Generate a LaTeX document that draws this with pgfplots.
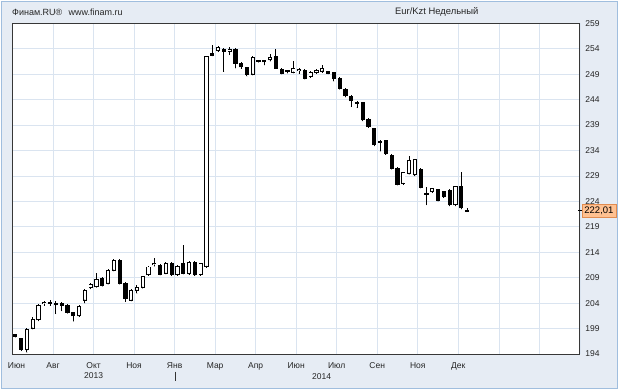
\documentclass[border=0pt]{standalone}
\usepackage{pgfplots}
\pgfplotsset{compat=1.18}
\usepackage{pgfplotstable}
\usepackage{fontspec}
\setmainfont{Liberation Sans}
\definecolor{panelbg}{RGB}{230,236,244}
\definecolor{panelborder}{RGB}{160,190,222}
\definecolor{gridc}{RGB}{218,228,240}
\definecolor{framec}{RGB}{55,55,55}
\definecolor{pricefill}{RGB}{255,193,145}
\definecolor{pricedraw}{RGB}{225,140,80}

\pgfplotstableread{
j O H L C
0 197.8 198.0 197.3 197.5
1 197.0 197.2 194.6 194.9
2 194.8 199.1 194.3 198.8
3 199.1 201.2 198.9 200.7
4 200.7 203.8 200.5 203.6
5 203.9 204.5 203.5 204.1
6 204.1 204.7 203.5 204.0
7 203.9 204.4 201.9 203.7
8 203.9 204.3 202.5 203.6
9 203.6 203.8 202.0 202.2
10 202.1 202.3 200.4 201.5
11 201.5 203.6 201.3 203.4
12 204.6 206.7 204.0 206.5
13 207.0 208.0 206.8 207.7
14 207.2 209.9 207.1 208.6
15 208.9 209.2 207.3 207.5
16 207.9 210.7 207.7 210.5
17 210.5 212.6 210.3 212.4
18 212.3 212.6 207.7 207.9
19 207.9 208.1 204.3 204.9
20 204.6 206.7 204.4 206.5
21 206.5 207.5 205.9 207.1
22 207.1 209.4 206.9 209.2
23 209.6 211.3 209.4 211.1
24 211.5 212.8 211.2 211.7
25 211.4 211.7 209.5 209.7
26 209.9 212.0 209.7 211.8
27 211.8 212.1 209.4 209.6
28 209.6 211.4 209.4 211.2
29 211.8 215.4 209.7 209.9
30 209.8 212.2 209.6 212.0
31 212.0 212.2 209.4 209.6
32 209.6 211.9 209.4 211.7
33 211.2 252.6 211.0 252.4
34 253.0 254.7 252.6 252.7
35 253.6 254.6 253.4 254.3
36 253.8 254.1 249.5 253.5
37 253.4 254.4 252.8 253.9
38 253.9 254.1 250.2 251.1
39 251.1 251.4 250.1 250.4
40 250.3 250.5 248.6 249.0
41 249.0 252.5 248.8 252.3
42 251.7 251.8 251.3 251.5
43 251.6 251.7 250.8 251.4
44 251.8 252.9 251.5 252.2
45 252.5 253.9 250.1 250.2
46 250.0 250.2 249.0 249.2
47 249.7 249.9 249.2 249.5
48 249.4 251.5 249.2 250.2
49 249.8 250.2 249.1 250.0
50 249.8 250.1 248.0 248.2
51 248.5 249.6 248.3 249.3
52 249.3 250.0 249.1 249.7
53 249.6 250.8 249.3 250.1
54 249.5 249.7 249.0 249.2
55 249.3 249.5 247.6 248.2
56 248.2 248.4 246.0 246.2
57 246.0 246.2 244.5 244.7
58 244.7 244.9 242.6 243.8
59 243.5 243.8 242.4 243.3
60 243.4 243.6 239.8 240.0
61 240.1 240.3 238.5 238.7
62 238.3 238.5 234.9 235.1
63 235.8 236.0 233.8 235.6
64 235.9 236.1 233.2 233.4
65 233.1 233.3 230.3 230.5
66 230.5 230.7 227.2 227.4
67 227.5 229.8 227.3 229.6
68 229.5 232.9 229.3 232.1
69 229.2 232.4 229.0 232.2
70 230.3 230.5 226.6 226.8
71 225.6 226.9 223.3 225.4
72 225.9 226.7 225.7 226.5
73 226.3 226.5 224.0 224.2
74 225.9 226.1 224.7 224.9
75 226.2 226.4 223.1 223.3
76 223.3 227.1 223.1 226.9
77 226.9 229.7 222.5 222.7
78 222.2 222.7 222.0 222.01
}\candles

\pgfplotsset{
  candlepart/.style={only marks, mark=*, mark size=0.01pt,
    mark options={draw=none, fill=none},
    error bars/.cd, y dir=plus, y explicit, error mark=none},
}

\begin{document}
\begin{tikzpicture}
\useasboundingbox (0,0) rectangle (620bp,390bp);
\fill[white] (0,0) rectangle (620bp,390bp);
\filldraw[fill=panelbg, draw=panelborder, line width=1bp] (1.5bp,1.5bp) rectangle (617.5bp,388.5bp);
\node[anchor=west, inner sep=0pt, font=\fontsize{9bp}{11bp}\selectfont, text=black!85] at (12bp,378bp) {Финам.RU®\hspace{0.7em}www.finam.ru};
\node[anchor=west, inner sep=0pt, font=\fontsize{9.4bp}{11bp}\selectfont, text=black!85] at (395bp,378bp) {Eur/Kzt Недельный};
\begin{axis}[
  at={(12.5bp,36bp)}, anchor=south west,
  x=5.79bp, y=5.088bp,
  xmin=0, xmax=98, ymin=194, ymax=259,
  clip=false,
  axis background/.style={fill=white},
  axis line style={draw=framec, line width=1bp},
  grid=major,
  grid style={draw=gridc, line width=0.7bp},
  major tick length=0pt,
  xtick={0,7,...,98},
  xticklabels={\hspace{8bp}Июн,Авг,Окт,Ноя,Янв,Мар,Апр,Июн,Июл,Сен,Ноя,Дек,,,},
  ytick={194,199,...,259},
  yticklabels={194,199,204,209,214,219,224,229,234,239,244,249,254,259},
  yticklabel pos=right,
  tick label style={font=\fontsize{8.5bp}{9bp}\selectfont, text=black!85},
  xticklabel style={yshift=-5bp},
  yticklabel style={xshift=2bp},
]
% wicks: from low up to high
\addplot[candlepart,
  error bar style={draw=black, line width=1bp, line cap=butt}]
  table[x expr=\thisrow{j}+0.5, y=L,
        y error plus expr=\thisrow{H}-\thisrow{L}] {\candles};
% bodies: black block from open to close (with outline allowance)
\addplot[candlepart,
  error bar style={draw=black, line width=4.2bp, line cap=butt}]
  table[x expr=\thisrow{j}+0.5, y expr={min(\thisrow{O},\thisrow{C})-0.09},
        y error plus expr={max(abs(\thisrow{C}-\thisrow{O})+0.18,0.2)}] {\candles};
% hollow interior for rising weeks
\addplot[candlepart,
  error bar style={draw=white, line width=2.4bp, line cap=butt}]
  table[x expr=\thisrow{j}+0.5, y expr={min(\thisrow{O},\thisrow{C})+0.09},
        y error plus expr={(\thisrow{C}>\thisrow{O})*max(abs(\thisrow{C}-\thisrow{O})-0.18,0)}] {\candles};
\coordinate (yr13) at (axis cs:14,194);
\coordinate (yr14) at (axis cs:53.4,194);
\coordinate (janmark) at (axis cs:28.1,194);
\coordinate (price) at (axis cs:98,222.13);
\end{axis}
\node[font=\fontsize{8.5bp}{9bp}\selectfont, text=black!85] at ([yshift=-22bp]yr13) {2013};
\node[font=\fontsize{8.5bp}{9bp}\selectfont, text=black!85] at ([yshift=-22.7bp]yr14) {2014};
\draw[black!80, line width=0.8bp] ([yshift=-17.7bp]janmark) -- ([yshift=-26.7bp]janmark);
\draw[black, line width=0.8bp] ([xshift=-2bp]price) -- ([xshift=2bp]price);
\node[anchor=west, fill=pricefill, draw=pricedraw, line width=0.6bp, minimum height=13.7bp, inner xsep=2.5bp, inner ysep=0pt, font=\fontsize{9.5bp}{10bp}\selectfont] at ([xshift=1.7bp]price) {222,01};
\end{tikzpicture}
\end{document}
